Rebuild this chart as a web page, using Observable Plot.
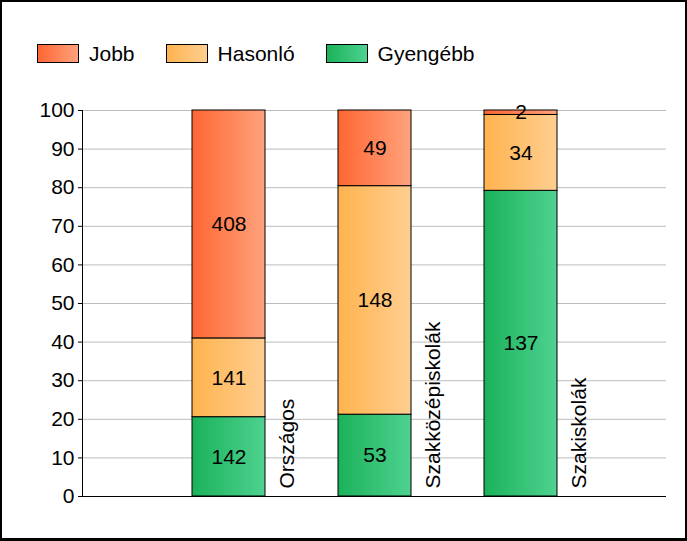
<!DOCTYPE html>
<html><head><meta charset="utf-8">
<script src="https://cdn.jsdelivr.net/npm/d3@7"></script>
<script src="https://cdn.jsdelivr.net/npm/@observablehq/plot@0.6"></script>
<style>
body{margin:0;background:#fff;font-family:"Liberation Sans",Arial,sans-serif;}
#wrap{position:relative;width:687px;height:541px;overflow:hidden;background:#fff;}
#chart{position:absolute;left:0;top:0;}
#frame{position:absolute;left:0;top:0;width:687px;height:541px;box-sizing:border-box;border:2px solid #000;border-bottom-width:3px;pointer-events:none;}
#legend{position:absolute;left:37px;top:44px;display:flex;align-items:center;font-size:21px;color:#000;line-height:19px;}
.item{display:flex;align-items:center;margin-right:31px;}
.sw{width:40px;height:17px;border:1px solid #000;margin-right:10px;}
</style></head>
<body><div id="wrap"><div id="chart"></div><div id="legend"></div><div id="frame"></div></div>
<script>
const categories = ["Országos", "Szakközépiskolák", "Szakiskolák"];
const series = ["Gyengébb", "Hasonló", "Jobb"];
const legendOrder = ["Jobb", "Hasonló", "Gyengébb"];
const gyengebb = [142, 53, 137];
const hasonlo = [141, 148, 34];
const jobb = [408, 49, 2];
const yTicks = [0, 10, 20, 30, 40, 50, 60, 70, 80, 90, 100];

const gradColors = {
  "Jobb": ["#FF6633", "#FFA27C"],
  "Hasonló": ["#FFB34F", "#FFCE90"],
  "Gyengébb": ["#1BB25A", "#4ED290"]
};
const gradId = {"Jobb": "gJobb", "Hasonló": "gHas", "Gyengébb": "gGy"};

const valuesBySeries = {"Gyengébb": gyengebb, "Hasonló": hasonlo, "Jobb": jobb};
const rows = [];
categories.forEach((c, i) => {
  const total = gyengebb[i] + hasonlo[i] + jobb[i];
  series.forEach(s => rows.push({cat: c, series: s, value: valuesBySeries[s][i], pct: valuesBySeries[s][i] / total * 100}));
});
const labelRows = categories.map(c => ({cat: c, y: 0}));

const font = "Liberation Sans, Arial, sans-serif";
const chart = Plot.plot({
  width: 687, height: 541,
  marginTop: 110, marginBottom: 45, marginLeft: 82, marginRight: 21,
  style: {fontFamily: font, fontSize: "21px", background: "transparent", color: "#000"},
  x: {domain: categories, range: [155, 593], paddingInner: 0.5, paddingOuter: 0.25, axis: null},
  y: {domain: [0, 100], axis: null},
  color: {domain: series, range: series.map(s => `url(#${gradId[s]})`)},
  marks: [
    Plot.gridY(yTicks, {stroke: "#BDBDBD", strokeOpacity: 1}),
    Plot.barY(rows, Plot.stackY({x: "cat", y: "pct", z: "series", fill: "series", order: series, stroke: "#000", strokeWidth: 1})),
    Plot.text(rows, Plot.stackY({x: "cat", y: "pct", z: "series", text: "value", order: series, fontSize: 21, fill: "#000", fontFamily: font})),
    Plot.text(labelRows, {x: "cat", y: "y", text: "cat", rotate: -90, textAnchor: "start", lineAnchor: "middle", dx: 58, dy: -8, fontSize: 21, fill: "#000", fontFamily: font}),
    Plot.axisY(yTicks, {tickSize: 4, tickPadding: 4, fontSize: 21, fill: "#000", stroke: "#000", label: null, fontFamily: font}),
    Plot.frame({anchor: "left", stroke: "#000"}),
    Plot.ruleY([0], {stroke: "#000"})
  ]
});
const defs = d3.select(chart).insert("defs", ":first-child");
series.forEach(s => {
  const g = defs.append("linearGradient").attr("id", gradId[s]).attr("x1", 0).attr("x2", 1).attr("y1", 0).attr("y2", 0);
  g.append("stop").attr("offset", "0%").attr("stop-color", gradColors[s][0]);
  g.append("stop").attr("offset", "100%").attr("stop-color", gradColors[s][1]);
});
document.getElementById("chart").appendChild(chart);

const legend = document.getElementById("legend");
legendOrder.forEach(s => {
  const it = document.createElement("div"); it.className = "item";
  const sw = document.createElement("div"); sw.className = "sw";
  sw.style.background = `linear-gradient(to right, ${gradColors[s][0]}, ${gradColors[s][1]})`;
  const t = document.createElement("span"); t.textContent = s;
  it.appendChild(sw); it.appendChild(t); legend.appendChild(it);
});
</script></body></html>
